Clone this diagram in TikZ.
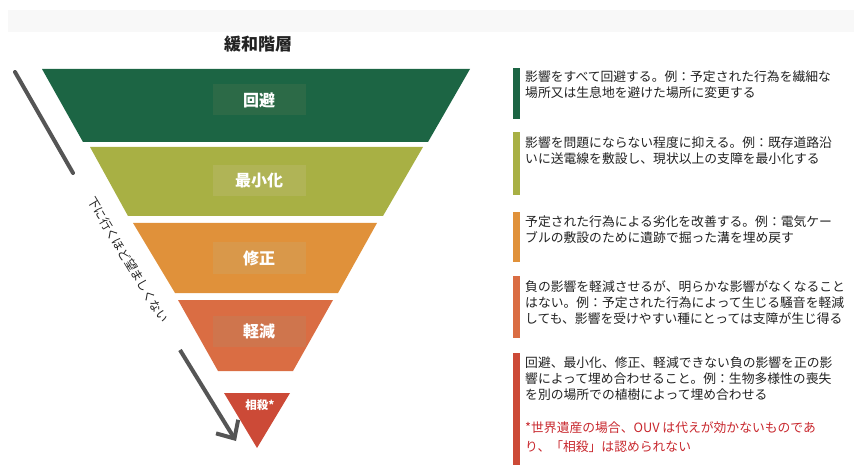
\documentclass[tikz,border=0pt]{standalone}
\usepackage{fontspec}
\setmainfont{Noto Sans CJK JP}
\usetikzlibrary{arrows.meta}
\definecolor{bandgray}{HTML}{F8F8F8}
\definecolor{cA}{HTML}{1C6544}
\definecolor{cAb}{HTML}{2C6A47}
\definecolor{cB}{HTML}{A8B044}
\definecolor{cBb}{HTML}{B0B456}
\definecolor{cC}{HTML}{E0913A}
\definecolor{cCb}{HTML}{D9984A}
\definecolor{cD}{HTML}{DA6D43}
\definecolor{cDb}{HTML}{CF754D}
\definecolor{cE}{HTML}{CC4A37}
\definecolor{txt}{HTML}{222222}
\definecolor{redtxt}{HTML}{C8282E}
\definecolor{arrowgray}{HTML}{555555}
\tikzset{
  lblbox/.style={minimum width=93pt, minimum height=31pt, inner sep=0pt, text=white, font=\fontsize{16}{18}\selectfont\bfseries},
  desc/.style={anchor=north west, inner sep=0pt, align=left, text=txt, font=\fontsize{12.8}{16}\selectfont},
  bar/.style={inner sep=0pt}
}
\begin{document}
\begin{tikzpicture}[x=1pt,y=-1pt]
\useasboundingbox (0,0) rectangle (854,465);
\fill[bandgray] (8,10) rectangle (854,32);
\node[font=\fontsize{17}{19}\selectfont\bfseries, text=txt] (title) at (258,44) {緩和階層};

% inverted pyramid
\fill[cA] (42,69) -- (470,69) -- (428,142) -- (83,142) -- cycle;
\fill[cB] (90,147) -- (423,147) -- (383,216) -- (128,216) -- cycle;
\fill[cC] (133,223) -- (377,223) -- (338,293) -- (175,293) -- cycle;
\fill[cD] (178,300) -- (333,300) -- (293,371) -- (218,371) -- cycle;
\fill[cE] (224,393) -- (290,393) -- (257,448) -- cycle;

\node[lblbox, fill=cAb] (l1) at (259,100) {回避};
\node[lblbox, fill=cBb] (l2) at (259,181) {最小化};
\node[lblbox, fill=cCb] (l3) at (259,258) {修正};
\node[lblbox, fill=cDb] (l4) at (259,331) {軽減};
\node[inner sep=0pt, text=white, font=\fontsize{11.5}{13}\selectfont\bfseries] (l5) at (260,405) {相殺*};

% arrow
\coordinate (a0) at (15,72);
\coordinate (a1) at (73,173);
\coordinate (a2) at (180,350);
\coordinate (a3) at (236,441);
\draw[arrowgray, line width=4pt, line cap=round] (a0) -- (a1);
\draw[arrowgray, line width=4pt, -{Straight Barb[length=14pt,width=26pt,line width=4pt]}] (a2) -- (a3);
\node[rotate=-59, inner sep=0pt, text=txt, font=\fontsize{12}{14}\selectfont] (dir) at (128,260) {下に行くほど望ましくない};

% right bars
\fill[cA] (513,68) rectangle (520,119);
\fill[cB] (513,132) rectangle (520,195);
\fill[cC] (513,212) rectangle (520,262);
\fill[cD] (513,276) rectangle (520,338);
\fill[cE] (513,353) rectangle (520,465);

\node[desc] (t1) at (525,70.5) {影響をすべて回避する。例：予定された行為を繊細な\\場所又は生息地を避けた場所に変更する};
\node[desc] (t2) at (525,136.5) {影響を問題にならない程度に抑える。例：既存道路沿\\いに送電線を敷設し、現状以上の支障を最小化する};
\node[desc] (t3) at (525,215.5) {予定された行為による劣化を改善する。例：電気ケー\\ブルの敷設のために遺跡で掘った溝を埋め戻す};
\node[desc] (t4) at (525,280.5) {負の影響を軽減させるが、明らかな影響がなくなること\\はない。例：予定された行為によって生じる騒音を軽減\\しても、影響を受けやすい種にとっては支障が生じ得る};
\node[desc] (t5) at (525,356.5) {回避、最小化、修正、軽減できない負の影響を正の影\\響によって埋め合わせること。例：生物多様性の喪失\\を別の場所での植樹によって埋め合わせる};
\node[desc, text=redtxt, font=\fontsize{12.8}{18.5}\selectfont] (t6) at (525,421.5) {*世界遺産の場合、OUV は代えが効かないものであ\\り、「相殺」は認められない};
\end{tikzpicture}
\end{document}
